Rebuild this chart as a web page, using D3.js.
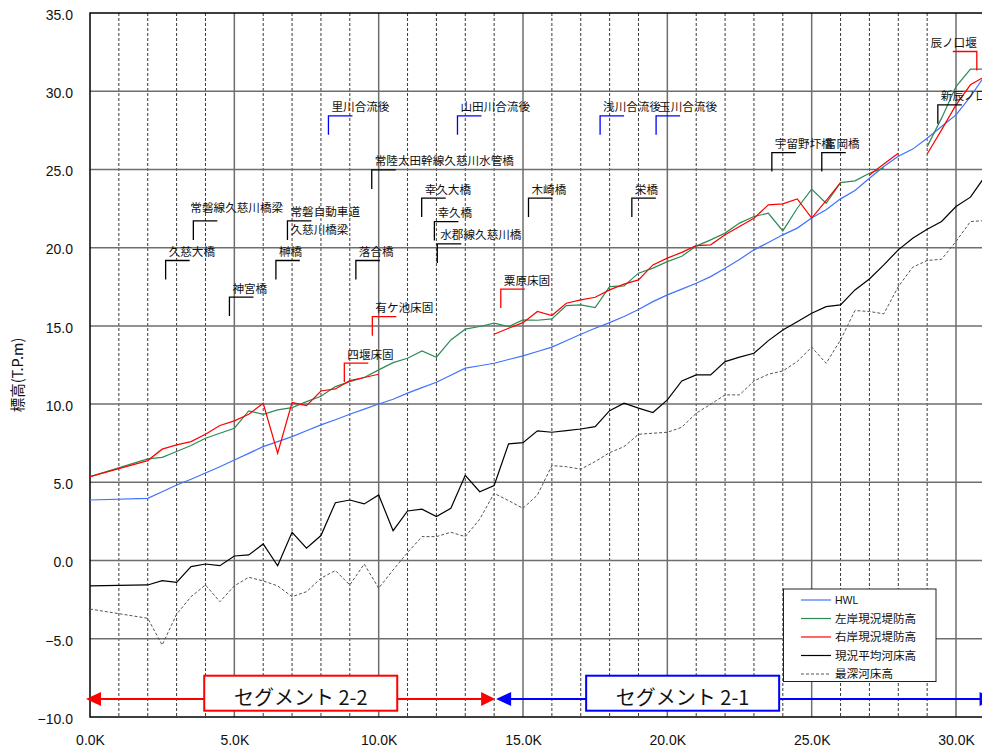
<!DOCTYPE html>
<html>
<head>
<meta charset="utf-8">
<script src="https://cdn.jsdelivr.net/npm/d3@7"></script>
<style>
  html, body { margin: 0; padding: 0; background: #fff; }
  svg { display: block; }
</style>
</head>
<body>
<svg id="chart" width="982" height="749"></svg>
<script>
// ---- Longitudinal profile data (chainage in km, elevation in T.P.m) ----
const stations = [0, 2, 2.5, 3, 3.5, 4, 4.5, 5, 5.5, 6, 6.5, 7, 7.5, 8, 8.5, 9, 9.5, 10,
  10.5, 11, 11.5, 12, 12.5, 13, 13.5, 14, 14.5, 15, 15.5, 16, 16.5, 17, 17.5, 18, 18.5, 19,
  19.5, 20, 20.5, 21, 21.5, 22, 22.5, 23, 23.5, 24, 24.5, 25, 25.5, 26, 26.5, 27, 27.5, 28,
  28.5, 29, 29.5, 30, 30.5, 31];

const hwl = [3.87, 3.98, 4.40, 4.83, 5.20, 5.60, 6.00, 6.43, 6.85, 7.28, 7.60, 7.92, 8.30, 8.67,
  9.00, 9.35, 9.68, 10.01, 10.31, 10.70, 11.05, 11.40, 11.85, 12.30, 12.45, 12.61, 12.85, 13.08,
  13.36, 13.64, 14.05, 14.47, 14.85, 15.21, 15.60, 16.05, 16.55, 16.98, 17.35, 17.73, 18.15, 18.69,
  19.25, 19.86, 20.33, 20.82, 21.25, 21.89, 22.42, 23.12, 23.65, 24.44, 25.19, 25.85, 26.30, 27.00,
  27.75, 28.49, 29.66, 31.00];

const leftBank = [5.36, 6.50, 6.60, 6.97, 7.35, 7.82, 8.14, 8.46, 9.57, 9.35, 9.63, 9.78, 10.16, 10.50,
  11.12, 11.44, 11.70, 12.19, 12.65, 12.93, 13.40, 13.00, 14.10, 14.79, 14.96, 15.17, 14.96, 15.38,
  15.36, 15.45, 16.30, 16.34, 16.17, 17.51, 17.56, 18.37, 18.69, 19.11, 19.45, 20.10, 20.50, 20.93,
  21.57, 21.99, 22.20, 21.07, 22.52, 23.74, 22.84, 24.16, 24.27, 24.76, 25.10, null, null, 26.46,
  28.28, 30.30, 31.41, 31.41];

const rightBank = [5.36, 6.39, 7.12, 7.39, 7.60, 8.07, 8.63, 8.93, 9.35, 10.05, 6.86, 10.10, 9.90, 10.84,
  10.97, 11.50, 11.70, 11.91, null, null, null, null, null, null, null, 14.47, 14.85, 15.21,
  15.92, 15.66, 16.45, 16.66, 16.83, 17.30, 17.67, 17.94, 18.90, 19.33, 19.70, 20.13, 20.18, 20.82,
  21.35, 21.88, 22.74, 22.80, 23.12, 21.89, 23.00, 24.16, null, 24.65, 25.35, 26.04, null, 25.99,
  27.53, 29.13, 30.41, 30.94];

const bedAverage = [-1.62, -1.56, -1.28, -1.39, -0.39, -0.22, -0.33, 0.29, 0.36, 1.06, -0.33, 1.81, 0.79, 1.60,
  3.70, 3.87, 3.62, 4.19, 1.91, 3.17, 3.28, 2.81, 3.34, 5.45, 4.40, 4.80, 7.46, 7.54,
  8.29, 8.20, 8.31, 8.41, 8.56, 9.58, 10.06, 9.74, 9.46, 10.27, 11.48, 11.87, 11.87, 12.72,
  13.00, 13.25, 14.06, 14.74, 15.27, 15.81, 16.23, 16.34, 17.30, 18.00, 18.90, 19.86, 20.60, 21.18,
  21.67, 22.63, 23.23, 24.55];

const bedDeepest = [-3.10, -3.69, -5.40, -3.43, -2.31, -1.56, -2.63, -1.62, -1.07, -1.30, -1.62, -2.31, -1.99, -1.13,
  -0.64, -1.56, -0.22, -1.77, -0.60, 0.51, 1.53, 1.53, 1.81, 1.53, 2.64, 4.30, 3.83, 3.34,
  4.19, 6.07, 6.00, 5.84, 6.33, 6.90, 7.28, 8.07, 8.14, 8.20, 8.52, 9.42, 9.99, 10.59,
  10.59, 11.48, 11.91, 12.12, 12.72, 13.64, 12.61, 14.10, 15.98, 15.92, 15.77, 17.51, 18.75, 19.18,
  19.26, 20.40, 21.67, 21.73];

const seriesNames = ["HWL", "左岸現況堤防高", "右岸現況堤防高", "現況平均河床高", "最深河床高"];
const seriesColors = ["#3f72ff", "#2e8b57", "#ff0000", "#000000", "#555555"];
const seriesValues = [hwl, leftBank, rightBank, bedAverage, bedDeepest];

const yTicks = [-10, -5, 0, 5, 10, 15, 20, 25, 30, 35];
const xTicks = [0, 5, 10, 15, 20, 25, 30];

// Structures along the river: chainage (km) and elevation of the leader bracket
const bridgeNames = ["久慈大橋", "神宮橋", "榊橋", "常磐線久慈川橋梁", "常磐自動車道\n久慈川橋梁", "落合橋",
  "常陸太田幹線久慈川水管橋", "幸久大橋", "幸久橋", "水郡線久慈川橋", "木崎橋", "栄橋",
  "宇留野圷橋", "富岡橋", "新辰ノ口橋"];
const bridgeKm = [2.62, 4.83, 6.44, 3.58, 6.84, 9.21, 9.76, 11.49, 11.93, 12.03, 15.19, 18.77, 23.62, 25.35, 29.37];
const bridgeElev = [19.18, 16.84, 19.18, 21.71, 21.71, 19.18, 24.97, 23.17, 21.67, 20.24, 23.17, 23.17, 26.08, 26.08, 29.13];

const confluenceNames = ["里川合流後", "山田川合流後", "浅川合流後", "玉川合流後"];
const confluenceKm = [8.26, 12.73, 17.67, 19.61];
const confluenceElev = [28.43, 28.43, 28.43, 28.43];

const weirNames = ["四堰床固", "有ケ池床固", "粟原床固", "辰ノ口堰"];
const weirKm = [8.81, 9.78, 14.23, 30.72];
const weirElev = [12.62, 15.59, 17.35, 32.54];

const segmentNames = ["セグメント 2-2", "セグメント 2-1"];
const segmentStart = [0, 14];
const segmentEnd = [14, 31.3];
const segmentLabelKm = [7.3, 20.53];
const segmentLevel = -8.85;

// ---- Layout ----
const svg = d3.select("#chart");
const plot = { left: 90, top: 13, right: 982, bottom: 717 };

const x = d3.scaleLinear().domain([0, 30.9]).range([plot.left, plot.right]);
const y = d3.scaleLinear().domain([-10, 35]).range([plot.bottom, plot.top]);

const numFont = "'Liberation Sans', Arial, sans-serif";
const jpFont = "'Noto Sans CJK JP', 'Noto Sans', sans-serif";

svg.append("defs").append("clipPath").attr("id", "plotClip")
  .append("rect").attr("x", plot.left).attr("y", plot.top - 1)
  .attr("width", plot.right - plot.left).attr("height", plot.bottom - plot.top + 2);

// ---- Grid ----
const grid = svg.append("g");
const minorKm = d3.range(1, 31).filter(k => k % 5 !== 0);
grid.selectAll("line.vminor").data(minorKm).join("line")
  .attr("x1", d => x(d)).attr("x2", d => x(d))
  .attr("y1", plot.top).attr("y2", plot.bottom)
  .attr("stroke", "#222").attr("stroke-width", 0.9).attr("stroke-dasharray", "3,2");
grid.selectAll("line.vmajor").data(xTicks.filter(d => d > 0)).join("line")
  .attr("x1", d => x(d)).attr("x2", d => x(d))
  .attr("y1", plot.top).attr("y2", plot.bottom)
  .attr("stroke", "#6e6e6e").attr("stroke-width", 1.5);
grid.selectAll("line.hmajor").data(yTicks.filter(d => d > -10 && d < 35)).join("line")
  .attr("x1", plot.left).attr("x2", plot.right)
  .attr("y1", d => y(d)).attr("y2", d => y(d))
  .attr("stroke", "#6e6e6e").attr("stroke-width", 1.5);

// frame: left, top, bottom
svg.append("path")
  .attr("d", `M${plot.right},${y(35)}H${plot.left}V${y(-10)}H${plot.right}`)
  .attr("fill", "none").attr("stroke", "#000").attr("stroke-width", 1.5);

// ---- Axes ----
const yAxis = svg.append("g").attr("transform", `translate(${plot.left},0)`)
  .call(d3.axisLeft(y).tickValues(yTicks).tickSize(0).tickPadding(17)
    .tickFormat(d => d3.format(".1f")(d)));
yAxis.select(".domain").remove();
yAxis.selectAll("text").attr("font-family", numFont).attr("font-size", 14)
  .attr("fill", "#111").attr("dy", "0.45em");

const xAxis = svg.append("g").attr("transform", `translate(0,${plot.bottom})`)
  .call(d3.axisBottom(x).tickValues(xTicks).tickSize(0).tickPadding(18)
    .tickFormat(d => d3.format(".1f")(d) + "K"));
xAxis.select(".domain").remove();
xAxis.selectAll("text").attr("font-family", numFont).attr("font-size", 14).attr("fill", "#111");

svg.append("text")
  .attr("transform", `translate(19,${(y(35) + y(-10)) / 2 + 10}) rotate(-90)`)
  .attr("text-anchor", "middle").attr("dominant-baseline", "middle")
  .attr("font-family", jpFont).attr("font-size", 14.5).attr("fill", "#111")
  .text("標高(T.P.m)");

// ---- Profile lines ----
const lines = svg.append("g").attr("clip-path", "url(#plotClip)");
const lineGen = d3.line()
  .defined(d => d[1] !== null)
  .x(d => x(d[0])).y(d => y(d[1]));

// bed lines first, then HWL and the two banks on top
[4, 3, 0, 1, 2].forEach(i => {
  const pts = stations.map((s, j) => [s, seriesValues[i][j]]);
  lines.append("path")
    .attr("d", lineGen(pts))
    .attr("fill", "none")
    .attr("stroke", seriesColors[i])
    .attr("stroke-width", i === 4 ? 1 : 1.2)
    .attr("stroke-dasharray", i === 4 ? "3,2" : null)
    .attr("stroke-linejoin", "miter");
});

// ---- Structure annotations ----
const notes = svg.append("g");
// a few captions sit slightly off their usual place beside the leader
const captionShift = { "常磐線久慈川橋梁": [-6, -4] };
function bracket(km, elev, color, name, flip) {
  const bx = x(km), by = y(elev);
  const w = 24, h = 19;
  const pts = flip ? [[bx - w, by], [bx, by], [bx, by + h]]
                   : [[bx, by + h], [bx, by], [bx + w, by]];
  notes.append("path").attr("d", d3.line()(pts))
    .attr("fill", "none").attr("stroke", color).attr("stroke-width", 1.3);
  const [sx, sy] = captionShift[name] || [0, 0];
  name.split("\n").forEach((t, i) => {
    notes.append("text")
      .attr("x", (flip ? bx : bx + 3) + sx)
      .attr("y", (i === 0 ? by - 4.5 : by + 13.5) + sy)
      .attr("text-anchor", flip ? "end" : "start")
      .attr("font-family", jpFont).attr("font-size", 11.6).attr("fill", "#111")
      .text(t);
  });
}
bridgeNames.forEach((n, i) => bracket(bridgeKm[i], bridgeElev[i], "#000", n, false));
confluenceNames.forEach((n, i) => bracket(confluenceKm[i], confluenceElev[i], "#0000ff", n, false));
weirNames.forEach((n, i) => bracket(weirKm[i], weirElev[i], "#ff0000", n, i === weirNames.length - 1));

// ---- Segment arrows ----
const seg = svg.append("g");
const segColors = ["#ff0000", "#0000ff"];
const ay = y(segmentLevel);
const boxW = 193, boxH = 35;
segmentNames.forEach((name, i) => {
  const c = segColors[i];
  const xs = x(segmentStart[i]) + (i === 0 ? -4 : 2);
  const xe = x(segmentEnd[i]) + (i === 0 ? 1 : 0);
  seg.append("line").attr("x1", xs + 10).attr("x2", xe - 10)
    .attr("y1", ay).attr("y2", ay).attr("stroke", c).attr("stroke-width", 2);
  seg.append("path").attr("d", `M${xs},${ay}L${xs + 15},${ay - 7}L${xs + 15},${ay + 7}Z`).attr("fill", c);
  seg.append("path").attr("d", `M${xe},${ay}L${xe - 14},${ay - 7}L${xe - 14},${ay + 7}Z`).attr("fill", c);
  const cx = x(segmentLabelKm[i]);
  seg.append("rect").attr("x", cx - boxW / 2).attr("y", ay - 23.3).attr("width", boxW).attr("height", boxH)
    .attr("fill", "#fff").attr("stroke", c).attr("stroke-width", 2);
  seg.append("text").attr("x", cx).attr("y", ay + 1)
    .attr("text-anchor", "middle").attr("dominant-baseline", "middle")
    .attr("font-family", jpFont).attr("font-size", 20).attr("fill", "#111")
    .text(name);
});

// ---- Legend ----
const lg = svg.append("g").attr("transform", "translate(783.5,589)");
lg.append("rect").attr("width", 152.5).attr("height", 92.5)
  .attr("fill", "#fff").attr("stroke", "#222").attr("stroke-width", 1);
seriesNames.forEach((n, i) => {
  const ry = 11 + i * 18.5;
  lg.append("line").attr("x1", 17.5).attr("x2", 47.5).attr("y1", ry).attr("y2", ry)
    .attr("stroke", seriesColors[i]).attr("stroke-width", i === 4 ? 1 : 1.2)
    .attr("stroke-dasharray", i === 4 ? "3,2" : null);
  lg.append("text").attr("x", 51.5).attr("y", ry + 4.2)
    .attr("font-family", i === 0 ? numFont : jpFont).attr("font-size", i === 0 ? 10.5 : 11.6)
    .attr("fill", "#111").text(n);
});
</script>
</body>
</html>
